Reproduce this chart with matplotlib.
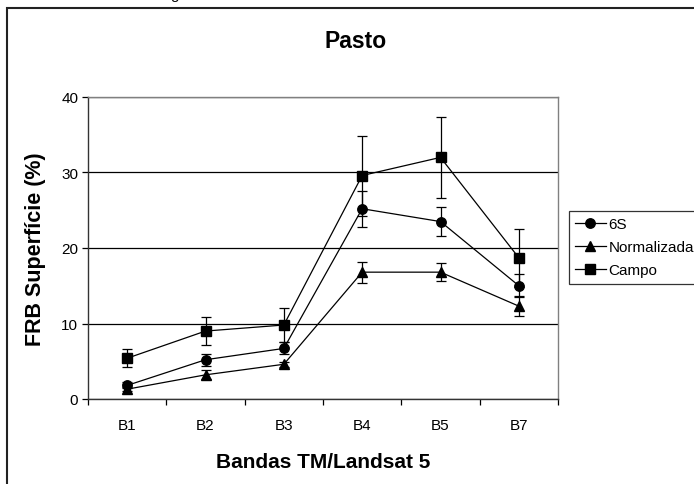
import matplotlib
matplotlib.use("Agg")
import matplotlib.pyplot as plt
from matplotlib.patches import Rectangle
import numpy as np

plt.rcParams["font.family"] = ["Liberation Sans", "DejaVu Sans"]

bands = ["B1", "B2", "B3", "B4", "B5", "B7"]
s6 = [1.8, 5.2, 6.7, 25.2, 23.5, 15.0]
s6_err = [0.4, 0.8, 0.8, 2.4, 1.9, 1.5]
norm = [1.3, 3.2, 4.6, 16.8, 16.8, 12.3]
norm_err = [0.3, 0.6, 0.3, 1.4, 1.2, 1.3]
campo = [5.4, 9.0, 9.8, 29.6, 32.0, 18.7]
campo_err = [1.2, 1.9, 2.3, 5.3, 5.4, 3.8]

W, H = 694, 485
fig = plt.figure(figsize=(W / 100, H / 100), dpi=100)
ax = fig.add_axes([88 / W, 1 - 400 / H, (558 - 88) / W, (400 - 98) / H])

x = np.arange(len(bands))
series = [("6S", s6, s6_err, "o", 6.8),
          ("Normalizada", norm, norm_err, "^", 7.5),
          ("Campo", campo, campo_err, "s", 6.5)]
for name, vals, err, mk, ms in series:
    ax.errorbar(x, vals, yerr=err, fmt="none", ecolor="black",
                elinewidth=0.9, capsize=3.6, capthick=0.9, zorder=3)
    ax.plot(x, vals, color="black", lw=0.9, marker=mk, ms=ms, label=name,
            zorder=4)

ax.set_xlim(-0.5, len(bands) - 0.5)
ax.set_ylim(0, 40)
ax.set_yticks([0, 10, 20, 30, 40])
ax.set_xticks(x)
ax.set_xticklabels(bands)
ax.set_xticks(np.arange(-0.5, len(bands)), minor=True)
ax.tick_params(axis="x", which="major", length=0, pad=14, labelsize=11)
ax.tick_params(axis="x", which="minor", length=4, width=0.9, direction="out")
ax.tick_params(axis="y", length=4, width=0.9, direction="out", labelsize=11, pad=3)
ax.grid(axis="y", color="black", lw=0.9, zorder=1)

for s in ("left", "bottom"):
    ax.spines[s].set_color("#333333")
    ax.spines[s].set_linewidth(1.0)
for s in ("top", "right"):
    ax.spines[s].set_color("#808080")
    ax.spines[s].set_linewidth(1.0)

ax.set_xlabel("Bandas TM/Landsat 5", fontsize=15, fontweight="bold", labelpad=14)
ax.set_ylabel("FRB Superfície (%)", fontsize=15.5, fontweight="bold", labelpad=11)

fig.text(356 / W, 1 - 41 / H, "Pasto", fontsize=16.5, fontweight="bold",
         ha="center", va="center")

leg = ax.legend(loc="upper left", bbox_to_anchor=(569 / W, 1 - 212 / H),
                bbox_transform=fig.transFigure, fontsize=11, frameon=True,
                fancybox=False, edgecolor="black", handlelength=2.0,
                handletextpad=0.2, borderpad=0.4, labelspacing=0.6,
                borderaxespad=0)
leg.get_frame().set_linewidth(0.9)

# outer chart frame (runs off the right and bottom edges)
fig.patches.append(Rectangle((7 / W, -0.1), 1.2, 1 - 9 / H + 0.1,
                             transform=fig.transFigure, fill=False,
                             edgecolor="#222222", lw=1.5))
# descender of the caption above, cut by the crop
fig.text(175 / W, 1 + 1 / H, "g", fontsize=11, ha="center", va="baseline")

fig.savefig("out.png", dpi=100)
